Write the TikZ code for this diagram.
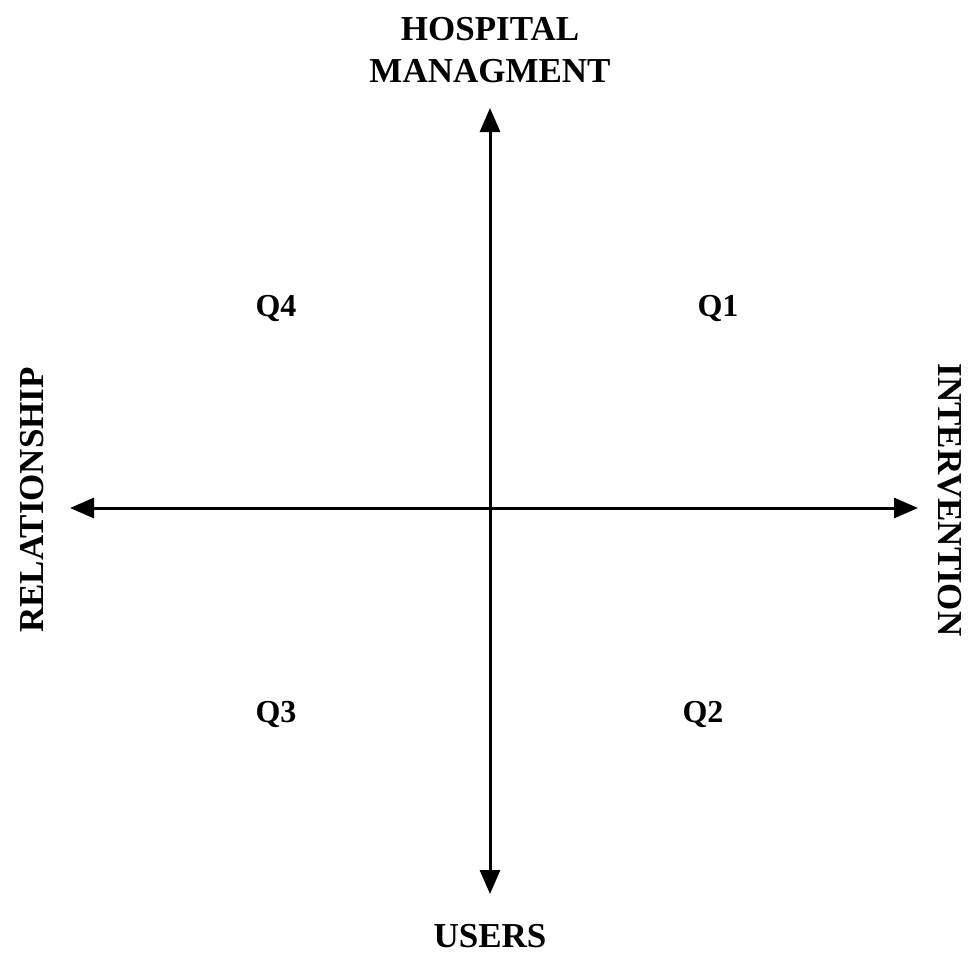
\documentclass[tikz,border=0pt]{standalone}
\usepackage{fontspec}
\setmainfont{Liberation Serif}
\usetikzlibrary{arrows.meta, positioning}

\begin{document}
\begin{tikzpicture}[
    x=1pt, y=-1pt,
    >={Triangle[length=24pt, width=20pt]},
    axis/.style={<->, line width=3pt, black},
    lbl/.style={font=\fontsize{35}{42}\selectfont\bfseries, align=center, inner sep=0pt},
    quad/.style={font=\fontsize{32}{38}\selectfont\bfseries, inner sep=0pt}
  ]

  \useasboundingbox (0,0) rectangle (976,956);

  % Extremites des axes
  \coordinate (o)  at (490, 508);
  \coordinate (up) at (490, 108);
  \coordinate (dn) at (490, 894);
  \coordinate (lt) at (70,  508);
  \coordinate (rt) at (918, 508);

  % Axes
  \draw[axis] (dn) -- (up);
  \draw[axis] (lt) -- (rt);

  % Etiquettes des axes
  \node[lbl] (hosp)  at (490, 50)  {HOSPITAL\\MANAGMENT};
  \node[lbl] (users) at (490, 936) {USERS};
  \node[lbl, rotate=90]  (rel) at (32, 500)  {RELATIONSHIP};
  \node[lbl, rotate=-90] (int) at (950, 500) {INTERVENTION};

  % Quadrants
  \node[quad] (q4) at (276, 308) {Q4};
  \node[quad] (q1) at (718, 308) {Q1};
  \node[quad] (q3) at (276, 714) {Q3};
  \node[quad] (q2) at (703, 714) {Q2};

\end{tikzpicture}
\end{document}
